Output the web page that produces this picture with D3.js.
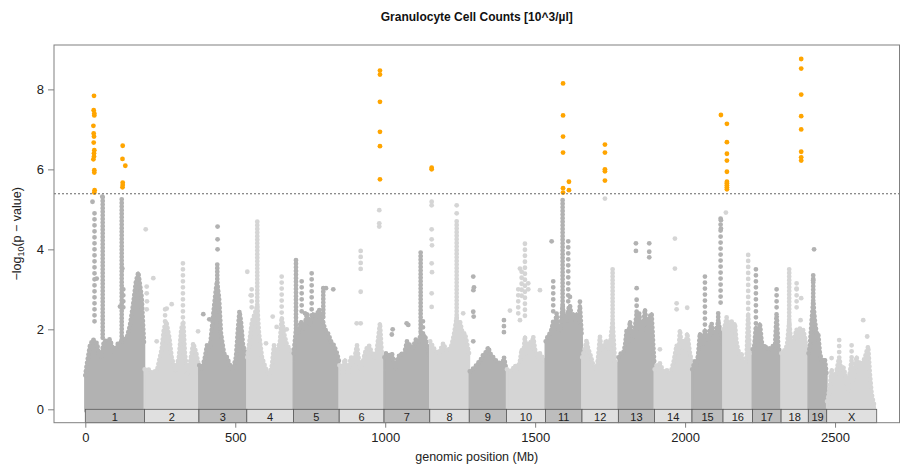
<!DOCTYPE html>
<html>
<head>
<meta charset="utf-8">
<script src="https://cdn.jsdelivr.net/npm/d3@7"></script>
<style>
  html, body { margin: 0; padding: 0; background: #fff; }
  svg { display: block; font-family: "Liberation Sans", Arial, sans-serif; }
</style>
</head>
<body>
<svg id="chart" width="901" height="471"></svg>
<script>
// ---------------- DATA ----------------
const chromNames = ["1","2","3","4","5","6","7","8","9","10","11","12","13","14","15","16","17","18","19","X"];
const chromLengths = [197.2,181.7,159.6,155.6,152.5,149.5,152.5,131.7,124.1,130.0,121.8,121.3,120.3,125.2,103.5,98.3,95.3,90.8,61.3,166.7];
const xTicks = [0,500,1000,1500,2000,2500];
const yTicks = [0,2,4,6,8];
const threshold = 5.39;

// top of the dense cloud of SNPs (cumulative Mb, -log10 p)
const baseEnvelope = [
  [0,0.85],[4.7,1.1],[15.7,1.6],[25.7,1.75],[32.3,1.7],[39,1.65],[45.7,1.35],[52.3,1.3],[62.3,1.7],[82.3,1.75],[95.7,1.4],[109,1.65],[122.4,1.7],[139,1.8],[149,2.1],[160,2.65],[169,3.2],[176.7,3.42],[188,2.8],[196,1.6],
  [198,1.0],[210,1.0],[225,0.9],[240,1.0],[254.7,1.5],[262,2.0],[270,2.2],[280,1.8],[288,1.3],[300,0.95],[312,1.3],[320,2.0],[326.7,2.2],[332,1.4],[340,0.9],[350,1.2],[360,1.65],[370,1.4],[378,1.1],
  [380,1.1],[389,1.0],[399,1.3],[405.7,1.6],[415.7,1.55],[425.7,2.3],[434,2.9],[439,3.2],[445.8,2.8],[452.4,1.9],[462.4,1.4],[472.4,1.3],[482.4,1.1],[492.4,1.0],[502.4,1.3],[509,2.0],[514,2.45],[519,2.2],[525.8,1.6],[537.4,1.3],
  [540,1.3],[545.8,1.6],[555.8,2.2],[565.8,2.4],[573.4,2.6],[579.1,1.9],[589.1,1.3],[602.5,1.0],[612.5,0.85],[622.5,1.1],[629.1,1.6],[639.1,1.4],[649.1,1.7],[654.8,2.3],[662.5,1.9],[672.5,1.6],[682.5,1.5],[693,1.4],
  [695,1.4],[702.5,2.0],[709.1,1.9],[719.1,2.2],[729.1,2.0],[739.1,2.4],[749.1,2.1],[759.1,2.4],[769.2,2.3],[779.2,2.5],[789.2,2.3],[799.2,2.0],[809.2,1.9],[819.2,1.7],[829.2,1.6],[839.2,1.4],[845.8,1.2],
  [847.5,1.1],[855.8,1.0],[865.8,1.25],[875.8,0.9],[885.8,1.3],[895.8,1.2],[905.9,1.6],[915.9,1.0],[925.9,1.2],[935.9,1.5],[945.9,1.6],[955.9,1.4],[965.9,1.3],[972.5,1.5],[982.5,2.15],[989.2,1.3],[995.3,1.1],
  [997.5,1.3],[1002.5,1.4],[1012.5,1.35],[1022.5,1.4],[1032.5,1.0],[1042.5,1.3],[1052.5,1.4],[1062.6,1.35],[1072.6,1.7],[1082.6,1.6],[1092.6,1.55],[1102.6,1.75],[1112.6,1.7],[1119.2,1.9],[1125.9,1.7],[1132.6,1.85],[1139.2,1.6],[1147.8,1.3],
  [1150,1.7],[1160.2,1.55],[1168,1.45],[1176.9,1.4],[1185,1.5],[1193.6,1.65],[1204.9,1.45],[1213,1.5],[1221.6,1.6],[1230,1.9],[1238.3,2.3],[1244,2.0],[1249.2,2.2],[1258,1.9],[1265.9,1.9],[1279.5,1.4],
  [1282,0.95],[1290,1.0],[1299.3,1.05],[1308,1.15],[1315.9,1.2],[1326,1.35],[1338.3,1.45],[1343.6,1.55],[1350,1.4],[1360.3,1.3],[1371.6,1.2],[1382.6,1.15],[1390,1.1],[1396,1.3],[1403.6,1.0],
  [1406,1.0],[1415.9,0.95],[1425,1.0],[1432.6,1.1],[1440,1.0],[1449.3,1.2],[1455,1.5],[1460,1.3],[1465.9,1.82],[1471,1.4],[1477,1.5],[1482.6,1.7],[1488,1.6],[1493.6,1.82],[1499.3,1.5],[1508,1.3],[1516,1.4],[1524,1.3],[1533.6,1.2],
  [1535.2,1.7],[1543.6,1.85],[1550,1.9],[1555,2.0],[1560.3,2.2],[1566,2.1],[1571.6,2.4],[1576,2.0],[1582.6,1.95],[1588,2.3],[1591.6,2.6],[1596,2.3],[1605,2.2],[1610.3,2.5],[1616,2.6],[1622,2.3],[1627,2.4],[1633,2.2],[1638.3,2.4],[1644,2.2],[1649.3,2.6],[1655.4,1.8],
  [1657,1.3],[1665,1.5],[1671.6,1.73],[1677,1.5],[1682.6,1.4],[1693.7,1.1],[1705,0.98],[1710,1.3],[1716,1.82],[1721,1.5],[1727,1.55],[1732.7,1.65],[1738.3,1.73],[1744,1.5],[1749.3,1.6],[1758.3,2.2],[1766,1.2],[1776.7,1.1],
  [1778.3,1.3],[1786,1.4],[1793.7,1.4],[1800,1.6],[1805,1.98],[1810,1.7],[1816,2.2],[1822,1.9],[1829,1.8],[1838.4,2.4],[1842,2.0],[1847,2.4],[1852,2.0],[1858,1.9],[1866,2.5],[1872,2.1],[1880.4,2.3],[1888.4,2.4],[1893.7,1.6],[1897,1.2],
  [1898.6,1.0],[1905,1.1],[1916,1.15],[1927,0.95],[1938.4,0.98],[1949.4,0.9],[1955.1,1.0],[1962,1.2],[1971.7,1.6],[1978,1.4],[1982.7,1.98],[1988,1.6],[1993.7,1.73],[2000,1.5],[2007,1.9],[2010.4,1.73],[2016,1.4],[2022.2,1.2],
  [2023.8,1.0],[2033,1.2],[2038.4,1.1],[2044,1.4],[2049.4,1.9],[2055,1.6],[2060,1.7],[2066.1,2.0],[2071.7,1.8],[2077,1.7],[2082.7,1.98],[2088.4,2.15],[2093.7,1.9],[2099.4,1.9],[2105,2.0],[2110.4,2.2],[2116,2.0],[2122,1.9],[2125.8,1.6],
  [2127.3,2.0],[2133,2.1],[2138.4,2.3],[2144,2.1],[2149.4,2.0],[2155,2.2],[2160.4,2.0],[2166.1,2.15],[2171,1.7],[2176.1,1.5],[2182.8,1.35],[2188,1.4],[2192.8,1.2],[2199.4,1.07],[2205,1.3],[2210.4,2.4],[2215,1.4],[2224,1.2],
  [2225.6,1.5],[2231,1.6],[2236.1,2.07],[2242,1.8],[2249.4,2.15],[2255,1.7],[2260.5,1.57],[2266,1.6],[2271.8,1.5],[2277.2,1.52],[2283,1.55],[2288,1.5],[2293.8,1.6],[2300,1.6],[2305.1,2.4],[2310.5,1.6],[2319.3,1.3],
  [2321,1.4],[2327,1.45],[2332.8,1.48],[2340,1.6],[2347.1,2.2],[2353,1.7],[2359.4,1.6],[2365,1.8],[2371.8,2.0],[2377,1.8],[2382.7,2.02],[2387.1,1.9],[2393.8,1.98],[2399.5,1.8],[2405.1,1.5],[2410.1,1.3],
  [2411.7,1.4],[2416.1,1.57],[2421.8,2.2],[2427.2,2.7],[2432.8,2.2],[2438.5,1.9],[2443.8,1.9],[2449.5,1.4],[2455.2,1.23],[2460.5,1.25],[2466.1,1.25],[2471.4,0.9],
  [2473.5,0.2],[2477.2,0.3],[2483,0.6],[2488.5,1.0],[2494,0.8],[2499.5,0.73],[2506,1.0],[2513.8,1.3],[2520,1.0],[2527.2,1.07],[2533,0.9],[2538.5,0.73],[2543.8,0.45],[2549,0.9],[2555.2,1.23],[2560.5,0.73],[2566,1.0],[2571.8,1.32],[2577,1.1],[2582.8,1.19],[2588,1.0],[2593.9,1.2],[2600,1.3],[2607.2,1.5],[2610.5,1.57],[2616,0.9],[2621.8,0.4],[2627,0.2],[2632.8,0.05]
];

// tightly stacked SNP columns: [cumulative Mb, low, high]
const denseColumns = [
  [58,1.7,5.3],[121.4,1.7,5.25],[440,2.5,3.62],[573.4,2.4,4.69],[702.5,2.0,3.73],[793.5,2.3,3.03],
  [1118.2,1.9,3.92],[1238.3,2.0,4.7],[1591.6,2.3,5.23],[1758.3,1.8,3.5],[2110.4,1.9,2.4],[2347.1,2.0,3.5],[2427.2,2.5,3.35]
];
// loosely stacked SNP columns: [cumulative Mb, low, high]
const sparseColumns = [
  [30.7,2.1,4.9],[126.7,2.4,3.0],[266,2.0,2.5],[325.5,2.2,3.65],[554.8,2.5,3.0],[654.8,2.4,3.32],[721.5,2.3,3.2],[754.8,2.3,3.4],
  [918.2,3.5,3.96],[1125.9,1.8,2.2],[1395.9,1.8,2.23],[1443.6,2.3,3.0],[1454.9,2.7,3.44],[1465.9,2.3,4.14],[1560.3,2.4,3.2],[1610.3,2.6,4.2],
  [1838.4,2.4,2.74],[2066.1,2.1,3.32],[2118.4,2.6,4.77],[2210.4,2.4,3.86],[2236.1,2.1,3.5],[2305.1,2.4,3.0],[2371.8,2.4,3.15],[2513.8,1.3,1.73],[2555.2,1.23,1.6]
];
// isolated non-significant SNPs
const grayPoints = [
  [24,5.19],[56.7,5.32],[38,3.27],[115.7,2.57],[123.4,3.52],
  [201.4,4.5],[204.7,3.07],[204.7,2.9],[205.5,2.7],[204.7,2.5],[226.7,3.28],[238,1.7],[271.4,2.52],[288,2.63],[376,1.95],
  [441,4.57],[441,4.25],[441,4.0],[393.4,2.38],[413.4,2.25],
  [540.1,3.44],[551.4,2.85],[602.5,1.65],[624.8,2.32],[638,2.06],[671.5,2.0],
  [802.5,3.03],[826.8,3.0],[732.5,2.4],
  [904.9,2.15],[918.2,2.94],[918.2,2.15],[980.2,4.98],[980.2,4.65],[980.2,4.57],
  [1024.9,2.0],[1022,1.87],[1071.5,2.15],[1076.9,2.11],
  [1154.9,5.19],[1154.9,5.1],[1154.9,4.5],[1154.9,4.25],[1156,4.1],[1154.9,3.65],[1156,3.43],[1154.9,2.9],[1154.9,2.56],[1238.3,5.1],[1238.3,4.9],[1260,2.4],
  [1293.6,3.32],[1296,3.05],[1294,2.98],[1293.6,2.44],[1295,2.32],[1293.6,1.7],
  [1415.9,2.47],[1449.3,2.23],[1449.3,3.52],[1477,3.0],[1477,3.15],[1516,2.98],
  [1555,4.2],[1616,2.81],[1649.3,2.69],
  [1732.7,5.27],
  [1836,4.15],[1836,3.96],[1838.4,3.03],[1880.4,4.15],[1880.4,3.94],[1880.4,3.8],
  [1966,4.27],[1966,3.52],[1971.7,2.65],[1971.7,2.5],[2007,2.54],[1916,1.5],
  [2119.4,4.73],[2119.4,4.52],
  [2136,4.92],
  [2371.8,3.02],[2387.1,2.78],[2385,2.23],
  [2430,4.0],[2427.2,3.23],
  [2488.5,1.28],[2593.9,2.23],[2607.2,1.82]
];
// SNPs above the significance threshold
const hitPoints = [
  [29,7.84],[28,7.48],[30,7.4],[30,7.35],[27,7.09],[28,6.9],[29,6.82],[28,6.67],[30,6.48],[29,6.4],[29,6.32],[27,6.25],[30,5.98],[30,5.92],[31,5.48],[30,5.42],
  [124.7,6.59],[124,6.26],[133.4,6.09],[124.7,5.67],[124.7,5.61],[124,5.55],
  [982.5,8.47],[982.5,8.37],[982.5,7.69],[982.5,6.94],[982.5,6.58],[982.5,5.75],
  [1154.9,6.04],[1154.9,6.0],
  [1593,8.15],[1593,7.35],[1593,6.82],[1593,6.42],[1593,5.53],[1593,5.42],[1612.7,5.69],[1612.7,5.48],
  [1732.7,6.62],[1732.7,6.42],[1732.7,6.0],[1732.7,5.95],[1732.7,5.72],
  [2119.4,7.36],
  [2139.4,7.14],[2139.4,6.68],[2139.4,6.39],[2139.4,6.22],[2139.4,5.94],[2139.4,5.69],[2139.4,5.65],[2139.4,5.6],[2139.4,5.55],[2139.4,5.5],
  [2387.1,8.76],[2387.1,8.52],[2387.1,7.87],[2387.1,7.33],[2387.1,7.0],[2387.1,6.44],[2387.1,6.3],[2387.1,6.22]
];

// ---------------- CHART ----------------
const svg = d3.select("#chart");
const plot = { left: 54, right: 899.5, top: 45, bottom: 422.7 };

const x = d3.scaleLinear().domain([-104.4, 2714.9]).range([plot.left, plot.right]);
const y = d3.scaleLinear().domain([-0.335, 9.11]).range([plot.bottom, plot.top]);

const starts = [];
let acc = 0;
chromLengths.forEach(l => { starts.push(acc); acc += l; });
const chroms = chromNames.map((n, i) => ({ name: n, start: starts[i], end: starts[i] + chromLengths[i], i }));
const chromIndex = pos => {
  for (let i = chroms.length - 1; i >= 0; i--) if (pos >= chroms[i].start) return i;
  return 0;
};
const dotDark = "#b2b2b2", dotLight = "#d5d5d5";
const dotColor = pos => (chromIndex(pos) % 2 === 0 ? dotDark : dotLight);
const R = 2.4;

const clipId = "plotclip";
svg.append("defs").append("clipPath").attr("id", clipId)
  .append("rect").attr("x", plot.left).attr("y", plot.top)
  .attr("width", plot.right - plot.left).attr("height", plot.bottom - plot.top);

const g = svg.append("g").attr("clip-path", `url(#${clipId})`);

// dense cloud per chromosome, with a beaded (dotted) upper edge
const area = d3.area().x(d => x(d[0])).y0(y(0) + 2).y1(d => y(d[1])).curve(d3.curveLinear);
const edge = d3.line().x(d => x(d[0])).y(d => y(d[1])).curve(d3.curveLinear);
chroms.forEach(c => {
  const pts = baseEnvelope.filter(d => chromIndex(d[0]) === c.i).sort((a, b) => a[0] - b[0]);
  if (!pts.length) return;
  const col = c.i % 2 === 0 ? dotDark : dotLight;
  g.append("path").datum(pts).attr("d", area).attr("fill", col)
    .attr("stroke", col).attr("stroke-width", 2.4).attr("stroke-linejoin", "round");
  g.append("path").datum(pts).attr("d", edge).attr("fill", "none")
    .attr("stroke", col).attr("stroke-width", 2 * R).attr("stroke-linecap", "round")
    .attr("stroke-dasharray", "0 4.2");
});

// columns
g.selectAll("line.dense").data(denseColumns).join("line")
  .attr("x1", d => x(d[0])).attr("x2", d => x(d[0]))
  .attr("y1", d => y(d[2])).attr("y2", d => y(d[1]))
  .attr("stroke", d => dotColor(d[0])).attr("stroke-width", 2 * R).attr("stroke-linecap", "round")
  .attr("stroke-dasharray", "0 3.6");

g.selectAll("line.sparse").data(sparseColumns).join("line")
  .attr("x1", d => x(d[0])).attr("x2", d => x(d[0]))
  .attr("y1", d => y(d[2])).attr("y2", d => y(d[1]))
  .attr("stroke", d => dotColor(d[0])).attr("stroke-width", 2 * R).attr("stroke-linecap", "round")
  .attr("stroke-dasharray", "0 6");

// individual gray points
g.selectAll("circle.gray").data(grayPoints).join("circle")
  .attr("cx", d => x(d[0])).attr("cy", d => y(d[1])).attr("r", R)
  .attr("fill", d => dotColor(d[0]));

// threshold
svg.append("line")
  .attr("x1", plot.left).attr("x2", plot.right)
  .attr("y1", y(threshold)).attr("y2", y(threshold))
  .attr("stroke", "#666").attr("stroke-width", 1).attr("stroke-dasharray", "2 2");

// significant points
g.selectAll("circle.hit").data(hitPoints).join("circle")
  .attr("cx", d => x(d[0])).attr("cy", d => y(d[1])).attr("r", R)
  .attr("fill", "#FFA500");

// chromosome boxes
const boxG = svg.append("g");
boxG.selectAll("rect").data(chroms).join("rect")
  .attr("x", d => x(d.start)).attr("width", d => x(d.end) - x(d.start))
  .attr("y", y(0)).attr("height", plot.bottom - y(0))
  .attr("fill", d => (d.i % 2 === 0 ? "#bdbdbd" : "#e0e0e0"))
  .attr("stroke", "#5a5a5a").attr("stroke-width", 0.8);
boxG.selectAll("text").data(chroms).join("text")
  .attr("x", d => (x(d.start) + x(d.end)) / 2).attr("y", y(0) + 11.3)
  .attr("text-anchor", "middle").attr("font-size", "11px").attr("fill", "#222")
  .text(d => d.name);

// frame
svg.append("rect")
  .attr("x", plot.left).attr("y", plot.top)
  .attr("width", plot.right - plot.left).attr("height", plot.bottom - plot.top)
  .attr("fill", "none").attr("stroke", "#808080").attr("stroke-width", 1);

// axes
const yAxis = svg.append("g").attr("transform", `translate(${plot.left},0)`)
  .call(d3.axisLeft(y).tickValues(yTicks).tickSize(6).tickPadding(4).tickFormat(d3.format("d")));
yAxis.select(".domain").remove();
yAxis.selectAll("line").attr("stroke", "#808080");
yAxis.selectAll("text").attr("font-size", "13px").attr("fill", "#222").attr("font-family", "Liberation Sans, Arial, sans-serif");

const xAxis = svg.append("g").attr("transform", `translate(0,${plot.bottom})`)
  .call(d3.axisBottom(x).tickValues(xTicks).tickSize(5).tickPadding(5).tickFormat(d3.format("d")));
xAxis.select(".domain").remove();
xAxis.selectAll("line").attr("stroke", "#808080");
xAxis.selectAll("text").attr("font-size", "13px").attr("fill", "#222").attr("font-family", "Liberation Sans, Arial, sans-serif");

// labels
svg.append("text").attr("x", (plot.left + plot.right) / 2).attr("y", 21)
  .attr("text-anchor", "middle").attr("font-size", "12px").attr("font-weight", "bold").attr("fill", "#111")
  .text("Granulocyte Cell Counts [10^3/µl]");

svg.append("text").attr("x", (plot.left + plot.right) / 2).attr("y", 461)
  .attr("text-anchor", "middle").attr("font-size", "12.5px").attr("fill", "#222")
  .text("genomic position (Mb)");

const yl = svg.append("text")
  .attr("transform", `translate(21,${(plot.top + plot.bottom) / 2}) rotate(-90)`)
  .attr("text-anchor", "middle").attr("font-size", "12.5px").attr("fill", "#222");
yl.append("tspan").text("−log");
yl.append("tspan").attr("font-size", "9px").attr("dy", 3).text("10");
yl.append("tspan").attr("dy", -3).text("(p − value)");
</script>
</body>
</html>
